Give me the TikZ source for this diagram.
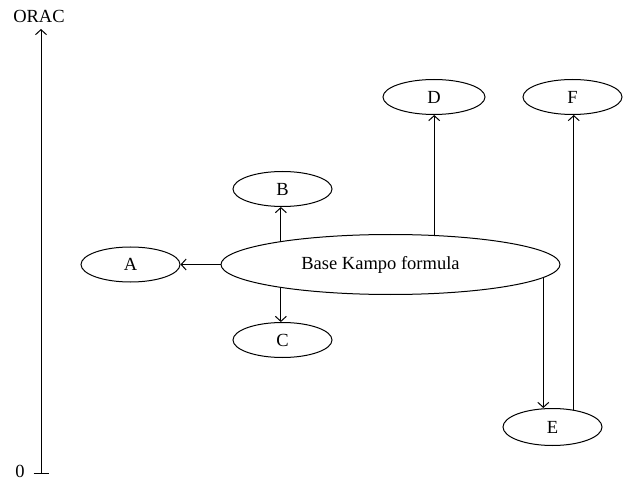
\documentclass[tikz,border=0pt]{standalone}
\usepackage{fontspec}
\setmainfont{Liberation Serif}
\usetikzlibrary{shapes.geometric,arrows.meta}
\begin{document}
\begin{tikzpicture}[x=1pt,y=-1pt,
  every node/.style={font=\fontsize{18.5}{22}\selectfont},
  oval/.style={ellipse,draw,line width=1pt,inner sep=0pt},
  small/.style={oval,minimum width=99pt,minimum height=35pt},
  arr/.style={line width=1pt,-{Straight Barb[length=5pt,width=11pt,line width=1pt]}}
]
\useasboundingbox (0,0) rectangle (624,481);
% axis
\coordinate (ax0) at (41,473);
\coordinate (ax1) at (41,29);
\node (orac) at (39,16) {ORAC};
\node[anchor=base,inner sep=0pt] (zero) at (20,477) {0};
\draw[arr] (ax0) -- (ax1);
\draw[line width=1pt] ([xshift=-7.5pt]ax0) -- ([xshift=7.5pt]ax0);
% nodes
\node[oval,minimum width=339pt,minimum height=60pt] (base) at (390.5,264.5) {\hspace*{-20pt}Base Kampo formula};
\node[small] (A) at (130.5,264.5) {A};
\node[small] (B) at (282.5,189) {B};
\node[small] (C) at (282.5,340) {C};
\node[small,minimum width=102pt] (D) at (434,97) {D};
\node[small] (F) at (572.5,97) {F};
\node[small,minimum height=37pt] (E) at (552.5,427) {E};
% connectors
\draw[arr] (base.west) -- (base.west -| A.east);
\draw[arr] (base.168) -- (base.168 |- B.south);
\draw[arr] (base.192) -- (base.192 |- C.north);
\draw[arr] (base.34) -- (base.34 |- D.south);
\draw[arr] (base.-5.7) -- (base.-5.7 |- E.north);
\draw[arr] (E.39) -- (E.39 |- F.south);
\end{tikzpicture}
\end{document}
